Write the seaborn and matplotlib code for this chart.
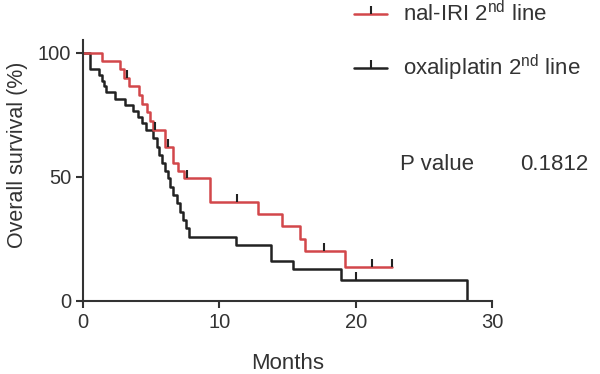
import matplotlib
matplotlib.use("Agg")
import matplotlib.pyplot as plt
from matplotlib.lines import Line2D
import numpy as np
import seaborn as sns

# step times (months) and survival (%) after each step
nal_times = [0, 1.4, 2.7, 3.0, 3.4, 4.1, 4.3, 4.7, 4.9, 5.1, 6.0, 6.6, 7.0, 7.4,
             9.3, 12.8, 14.6, 15.9, 16.3, 19.2, 22.7]
nal_surv = [100, 96.7, 93.3, 90.0, 86.5, 83.0, 79.5, 76.0, 72.5, 69.0, 62.0, 55.5, 52.5, 49.5,
            40.0, 35.0, 30.0, 25.0, 20.0, 13.5, 13.5]
nal_censor = [3.2, 5.3, 6.2, 7.6, 11.3, 17.7, 21.2, 22.7]

oxa_times = [0, 0.55, 1.15, 1.4, 1.55, 1.7, 2.35, 3.1, 3.7, 4.07, 4.3, 4.6, 5.15, 5.4,
             5.6, 5.8, 6.0, 6.2, 6.4, 6.63, 6.88, 7.12, 7.36, 7.56, 7.8, 11.2, 13.8,
             15.4, 18.9, 28.2]
oxa_surv = [100, 93.5, 91.0, 88.5, 86.5, 84.0, 81.5, 79.0, 76.5, 74.0, 71.5, 69.0, 65.5, 62.0,
            58.8, 55.5, 52.5, 49.3, 46.0, 42.6, 39.3, 35.9, 32.5, 29.2, 25.8, 22.6, 16.1,
            12.9, 8.5, 0]
oxa_censor = [20.0]

p_value = "0.1812"
x_ticks = [0, 10, 20, 30]
y_ticks = [0, 50, 100]

red = "#d2474a"
black = "#222222"
grey = "#333333"

sns.set_style("ticks")
plt.rcParams["font.family"] = ["Liberation Sans", "DejaVu Sans"]
plt.rcParams["mathtext.fontset"] = "custom"
plt.rcParams["mathtext.rm"] = "Liberation Sans"
plt.rcParams["text.color"] = grey
plt.rcParams["axes.labelcolor"] = grey
plt.rcParams["xtick.color"] = grey
plt.rcParams["ytick.color"] = grey

fig = plt.figure(figsize=(6, 3.74), dpi=100)
ax = fig.add_axes([83 / 600, 73.3 / 374, 409 / 600, 260.4 / 374])


def censor_levels(times, surv, cens):
    idx = np.searchsorted(times, cens, side="right") - 1
    return [surv[i] for i in idx]


sns.lineplot(x=oxa_times, y=oxa_surv, drawstyle="steps-post", color=black, lw=1.8, ax=ax)
sns.lineplot(x=nal_times, y=nal_surv, drawstyle="steps-post", color=red, lw=1.8, ax=ax)
ax.plot(oxa_censor, censor_levels(oxa_times, oxa_surv, oxa_censor), ls="none",
        marker=2, ms=6, mew=1.5, color=black)
ax.plot(nal_censor, censor_levels(nal_times, nal_surv, nal_censor), ls="none",
        marker=2, ms=6, mew=1.5, color=black)

ax.set_xlim(0, 30)
ax.set_ylim(0, 105)
ax.set_xticks(x_ticks)
ax.set_yticks(y_ticks)
ax.tick_params(labelsize=14.5, width=1.5, length=5, colors=grey)
for s in ["left", "bottom"]:
    ax.spines[s].set_linewidth(1.5)
    ax.spines[s].set_color(grey)
sns.despine(ax=ax)

ax.set_xlabel("Months", fontsize=16)
ax.set_ylabel("Overall survival (%)", fontsize=15.5)
ax.xaxis.set_label_coords(0.5, -0.2)
ax.yaxis.set_label_coords(-0.135, 0.56)

handles = [
    Line2D([], [], color=red, lw=1.8, marker=2, ms=6, mew=1.5, mec=black),
    Line2D([], [], color=black, lw=1.8, marker=2, ms=6, mew=1.5, mec=black),
]
labels = [r"nal-IRI 2$^{\mathrm{nd}}$ line", r"oxaliplatin 2$^{\mathrm{nd}}$ line"]
fig.legend(handles, labels, loc="upper left", bbox_to_anchor=(354 / 600, 0.997),
           frameon=False, fontsize=16, handlelength=1.5, handletextpad=0.7,
           labelspacing=1.2, borderpad=0, borderaxespad=0)

fig.text(400 / 600, 1 - 164 / 374, "P value", fontsize=16, va="center", ha="left")
fig.text(588 / 600, 1 - 164 / 374, p_value, fontsize=16, va="center", ha="right")

fig.savefig("out.png", dpi=100)
